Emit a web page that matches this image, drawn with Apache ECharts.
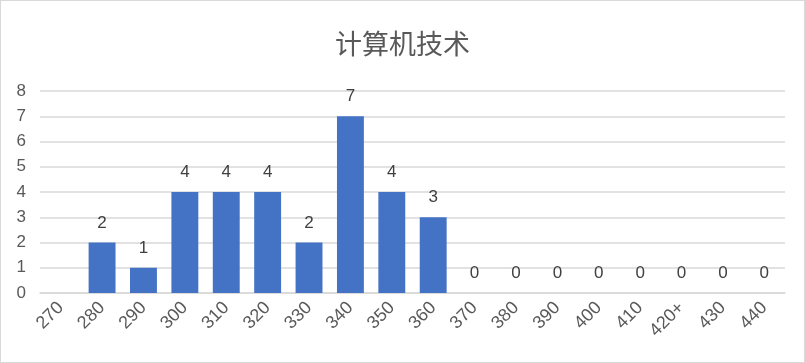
<!DOCTYPE html>
<html><head><meta charset="utf-8">
<script src="https://cdn.jsdelivr.net/npm/echarts@6/dist/echarts.min.js"></script>
<style>html,body{margin:0;padding:0;background:#fff}#c{width:805px;height:363px;box-sizing:border-box;border:1px solid #d9d9d9}</style>
</head><body><div id="c"></div>
<script>
const titleText = '计算机技术';
const categories = ['270','280','290','300','310','320','330','340','350','360','370','380','390','400','410','420+','430','440'];
const values = [null,2,1,4,4,4,2,7,4,3,0,0,0,0,0,0,0,0];
const yTicks = [0,1,2,3,4,5,6,7,8];
const chart = echarts.init(document.getElementById('c'));
chart.setOption({
  animation:false,
  title:{text:titleText,left:'center',top:24,textStyle:{fontFamily:'Noto Sans CJK SC',fontSize:27,fontWeight:'normal',color:'#595959'}},
  grid:{left:39,right:19,top:90,bottom:69},
  xAxis:{type:'category',data:categories,
    axisLine:{lineStyle:{color:'#d9d9d9',width:1.5}},axisTick:{show:false},
    axisLabel:{rotate:45,color:'#595959',fontSize:18,fontFamily:'Liberation Sans',margin:12,interval:0}},
  yAxis:{type:'value',min:yTicks[0],max:yTicks[yTicks.length-1],interval:1,
    axisLabel:{color:'#595959',fontSize:17,fontFamily:'Liberation Sans',margin:14},
    splitLine:{lineStyle:{color:'#d9d9d9',width:1.5}},axisLine:{show:false},axisTick:{show:false}},
  series:[{type:'bar',data:values,barCategoryGap:'35%',
    itemStyle:{color:'#4472c4'},
    label:{show:true,position:'top',distance:11,color:'#404040',fontSize:17,fontFamily:'Liberation Sans'}}]
});
</script></body></html>
